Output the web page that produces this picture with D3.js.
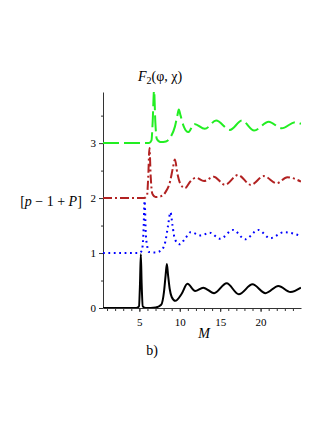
<!DOCTYPE html>
<html>
<head>
<meta charset="utf-8">
<script src="https://cdn.jsdelivr.net/npm/d3@7"></script>
<style>
body { margin: 0; background: #fff; }
text { font-family: "Liberation Serif", "Times New Roman", serif; }
</style>
</head>
<body>
<div id="chart"></div>
<script>
var width = 327;
var height = 423;

// values, each curve is offset by its level
var blackM = [0.5, 4.6, 4.95, 5.08, 5.18, 5.28, 5.42, 5.8, 7.0, 7.7, 8.05, 8.25, 8.4, 8.55, 8.75, 9.0, 9.45, 10.2, 10.95, 11.9, 12.9, 14.25, 15.8, 17.3, 19.0, 20.6, 22.2, 23.7, 25];
var blackV = [0, 0, 0.03, 0.45, 0.98, 0.45, 0.03, 0, 0.01, 0.06, 0.3, 0.6, 0.8, 0.6, 0.35, 0.2, 0.13, 0.25, 0.44, 0.31, 0.37, 0.27, 0.45, 0.25, 0.43, 0.27, 0.4, 0.29, 0.37];

var blueM = [0.5, 4.9, 5.3, 5.5, 5.65, 5.8, 6.0, 6.2, 7.0, 7.7, 8.2, 8.55, 8.85, 9.1, 9.4, 10.0, 10.6, 11.35, 12.6, 13.7, 15.0, 16.6, 18.1, 19.7, 21.2, 22.9, 25];
var blueV = [1, 1, 1.04, 1.35, 1.95, 1.35, 1.1, 1.02, 1.01, 1.05, 1.2, 1.5, 1.74, 1.5, 1.25, 1.16, 1.25, 1.38, 1.32, 1.37, 1.26, 1.42, 1.25, 1.42, 1.27, 1.38, 1.31];

var brownM = [0.5, 5.6, 5.95, 6.1, 6.25, 6.4, 6.6, 7.0, 7.6, 8.2, 8.8, 9.15, 9.4, 9.7, 10.1, 10.65, 11.3, 12.0, 13.0, 14.2, 15.6, 17.2, 18.8, 20.4, 22.0, 23.3, 25];
var brownV = [2, 2, 2.05, 2.4, 2.91, 2.4, 2.08, 2.02, 2.03, 2.1, 2.3, 2.55, 2.7, 2.45, 2.25, 2.18, 2.3, 2.37, 2.31, 2.39, 2.24, 2.42, 2.24, 2.4, 2.27, 2.38, 2.3];

var greenM = [0.5, 6.2, 6.5, 6.65, 6.82, 6.97, 7.15, 7.6, 8.3, 8.9, 9.4, 9.7, 9.88, 10.1, 10.5, 11.05, 11.8, 13.1, 14.5, 16.2, 17.7, 19.2, 21.0, 22.6, 24.3, 25];
var greenV = [3, 3, 3.05, 3.4, 3.97, 3.4, 3.08, 3.02, 3.03, 3.12, 3.3, 3.5, 3.61, 3.5, 3.3, 3.2, 3.35, 3.26, 3.41, 3.24, 3.41, 3.23, 3.39, 3.27, 3.38, 3.35];

var xTicks = [5, 10, 15, 20];
var yTicks = [0, 1, 2, 3];

var svg = d3.select("#chart")
    .append("svg")
    .attr("width", width)
    .attr("height", height);

var x = d3.scaleLinear().domain([0.5, 25]).range([103, 301]);
var y = d3.scaleLinear().domain([0, 3.93]).range([308, 92]);

svg.append("clipPath").attr("id", "plot")
  .append("rect")
    .attr("x", x(0.5)).attr("y", y(3.93))
    .attr("width", x(25) - x(0.5)).attr("height", y(0) - y(3.93));

var line = d3.line()
    .x(function(d) { return x(d[0]); })
    .y(function(d) { return y(d[1]); })
    .curve(d3.curveMonotoneX);

var series = [
  {m: greenM, v: greenV, color: "#22ee22", dash: "16,5"},
  {m: brownM, v: brownV, color: "#b22222", dash: "9,3,2,3"},
  {m: blueM, v: blueV, color: "#0000ff", dash: "1.8,3.6"},
  {m: blackM, v: blackV, color: "#000000", dash: null}
];

// axes
var gx = svg.append("g")
    .attr("transform", "translate(0," + y(0) + ")")
    .call(d3.axisBottom(x).tickValues(d3.range(1, 25)).tickSize(3).tickSizeOuter(0).tickFormat(""));
gx.select(".domain").remove();
svg.append("g")
    .attr("transform", "translate(0," + y(0) + ")")
    .call(d3.axisBottom(x).tickValues(xTicks).tickSize(4).tickSizeOuter(0).tickPadding(6))
    .attr("font-family", null)
    .call(function(g) { g.selectAll("text").style("font-size", "11px").attr("fill", "#000"); });

var gy = svg.append("g")
    .attr("transform", "translate(" + x(0.5) + ",0)")
    .call(d3.axisLeft(y).tickValues([0.5, 1.5, 2.5, 3.5]).tickSize(2).tickFormat(""));
gy.select(".domain").remove();
svg.append("g")
    .attr("transform", "translate(" + x(0.5) + ",0)")
    .call(d3.axisLeft(y).tickValues(yTicks).tickSize(4).tickSizeOuter(0).tickPadding(3).tickFormat(d3.format("d")))
    .attr("font-family", null)
    .call(function(g) { g.selectAll("text").style("font-size", "11px").attr("fill", "#000"); });

svg.selectAll(".domain, .tick line").attr("stroke", "#333");

// curves
series.forEach(function(s) {
  svg.append("path")
      .datum(d3.zip(s.m, s.v))
      .attr("clip-path", "url(#plot)")
      .attr("fill", "none")
      .attr("stroke", s.color)
      .attr("stroke-width", 2)
      .attr("stroke-dasharray", s.dash)
      .attr("d", line);
});

// title
var title = svg.append("text")
    .attr("x", 160)
    .attr("y", 81)
    .attr("text-anchor", "middle")
    .style("font-size", "14px");
title.append("tspan").style("font-style", "italic").text("F");
title.append("tspan").attr("dy", 3).style("font-size", "10px").text("2");
title.append("tspan").attr("dy", -3).text("(\u03c6, \u03c7)");

// y label
var ylab = svg.append("text")
    .attr("x", 51)
    .attr("y", 206)
    .attr("text-anchor", "middle")
    .style("font-size", "14px");
ylab.append("tspan").text("[");
ylab.append("tspan").style("font-style", "italic").text("p");
ylab.append("tspan").text(" \u2212 1 + ");
ylab.append("tspan").style("font-style", "italic").text("P");
ylab.append("tspan").text("]");

svg.append("text")
    .attr("x", 204)
    .attr("y", 338)
    .attr("text-anchor", "middle")
    .style("font-size", "14px")
    .style("font-style", "italic")
    .text("M");

svg.append("text")
    .attr("x", 152)
    .attr("y", 355)
    .attr("text-anchor", "middle")
    .style("font-size", "14px")
    .text("b)");
</script>
</body>
</html>
